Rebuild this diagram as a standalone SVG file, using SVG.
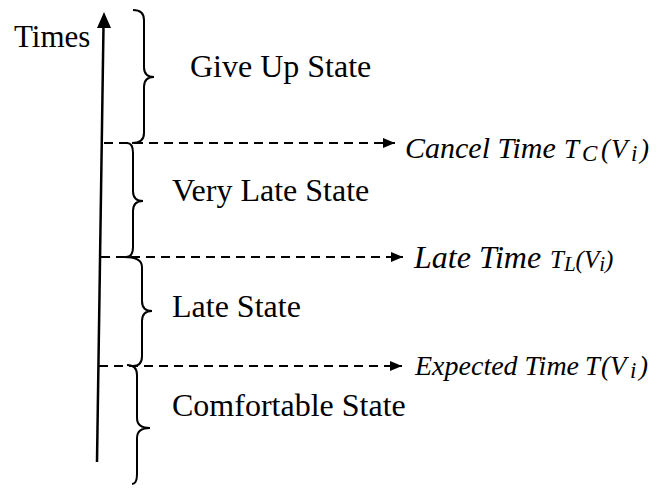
<svg xmlns="http://www.w3.org/2000/svg" width="665" height="488" viewBox="0 0 665 488">
<style>
.lbl{font-family:"Liberation Serif","Times New Roman",serif;font-size:32px;fill:#000}
.it{font-family:"Liberation Serif","Times New Roman",serif;font-style:italic;font-size:32px;fill:#000}
.sb{font-family:"Liberation Serif","Times New Roman",serif;font-style:italic;font-size:27px;fill:#000}
.ss{font-size:23px}
.brace{fill:none;stroke:#000;stroke-width:2}
.dash{fill:none;stroke:#000;stroke-width:2.2;stroke-dasharray:9 6}
</style>
<defs>
<marker id="ah" viewBox="0 0 12 10" refX="12" refY="5" markerWidth="12" markerHeight="10" markerUnits="userSpaceOnUse" orient="auto">
<path d="M0,0 L12,5 L0,10 Z" fill="#000"/>
</marker>
</defs>
<g id="axis">
<line x1="97" y1="462" x2="103.5" y2="26" stroke="#000" stroke-width="2.5"/>
<path d="M104,12 L111,28 L97,28 Z" fill="#000"/>
<text class="lbl" x="14" y="47" style="font-size:31px">Times</text>
</g>
<g id="connectors">
<line class="dash" x1="104" y1="143" x2="395" y2="143" marker-end="url(#ah)"/>
<line class="dash" x1="101" y1="257" x2="403" y2="257" marker-end="url(#ah)"/>
<line class="dash" x1="99" y1="366" x2="402" y2="366" marker-end="url(#ah)"/>
</g>
<g id="give-up">
<path class="brace" d="M133,10 Q144,10 144,20 L144,67 Q144,77 154,77 Q144,77 144,87 L144,133 Q144,143 132,143"/>
<text class="lbl" x="190" y="77">Give Up State</text>
</g>
<g id="very-late">
<path class="brace" d="M127,143 Q133,143 133,153 L133,191 Q133,201 143,201 Q133,201 133,211 L133,247 Q133,257 126,257"/>
<text class="lbl" x="172" y="201">Very Late State</text>
</g>
<g id="late">
<path class="brace" d="M124,257 Q142,257 142,267 L142,301 Q142,311 152,311 Q142,311 142,321 L142,356 Q142,366 133,366"/>
<text class="lbl" x="172" y="317">Late State</text>
</g>
<g id="comfortable">
<path class="brace" d="M127,365 Q137,365 137,375 L137,418 Q137,428 150,428 Q137,428 137,438 L137,474 Q137,484 132,484"/>
<text class="lbl" x="172" y="416">Comfortable State</text>
</g>
<g id="cancel">
<text class="it" x="405" y="158" style="font-size:30px">Cancel Time</text>
<text class="sb" y="158"><tspan x="564">T</tspan><tspan class="ss" x="582" dy="3">C</tspan><tspan x="601" dy="-3">(</tspan><tspan x="611">V</tspan><tspan class="ss" x="631" dy="3">i</tspan><tspan x="640" dy="-3">)</tspan></text>
</g>
<g id="late-time">
<text class="it" x="414" y="268">Late Time</text>
<text class="sb" x="550" y="268" style="font-size:25px">T<tspan style="font-size:21px" dy="3">L</tspan><tspan dy="-3">(V</tspan><tspan style="font-size:21px" dy="3">i</tspan><tspan dy="-3">)</tspan></text>
</g>
<g id="expected">
<text class="it" x="415" y="375" style="font-size:28px">Expected Time</text>
<text class="sb" y="375"><tspan x="585">T</tspan><tspan x="601">(</tspan><tspan x="610">V</tspan><tspan class="ss" x="630" dy="3">i</tspan><tspan x="639" dy="-3">)</tspan></text>
</g>
</svg>
